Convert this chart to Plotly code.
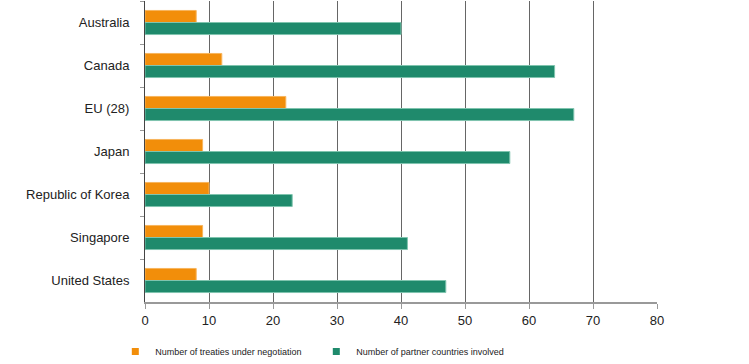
import plotly.graph_objects as go

countries = ["Australia", "Canada", "EU (28)", "Japan", "Republic of Korea", "Singapore", "United States"]
treaties = [8, 12, 22, 9, 10, 9, 8]
partners = [40, 64, 67, 57, 23, 41, 47]
x_ticks = [0, 10, 20, 30, 40, 50, 60, 70, 80]
series_names = ["Number of treaties under negotiation", "Number of partner countries involved"]
series_colors = ["#F28E0A", "#1F8A6C"]
border_colors = ["#F7B45C", "#7FC4AE"]

font_family = "Liberation Sans, Arial, Helvetica, sans-serif"

fig = go.Figure()
for vals, name, col, bcol in zip([treaties, partners], series_names, series_colors, border_colors):
    fig.add_trace(go.Bar(
        y=countries, x=vals, orientation="h", name=name, showlegend=False,
        marker=dict(color=col, line=dict(color=bcol, width=1)),
    ))
# legend entries with small square swatches
for name, col in zip(series_names, series_colors):
    fig.add_trace(go.Scatter(
        x=[None], y=[None], mode="markers", name=name,
        marker=dict(symbol="square", size=7, color=col),
    ))

fig.update_layout(
    width=749, height=364,
    margin=dict(l=145, r=92, t=1, b=62, autoexpand=False),
    paper_bgcolor="white", plot_bgcolor="white",
    barmode="group", bargap=0.44, bargroupgap=0,
    font=dict(family=font_family, size=13, color="#222"),
    showlegend=True,
    legend=dict(
        orientation="h", x=-0.058, xanchor="left", y=-0.116, yanchor="top",
        font=dict(size=9, color="#222"), entrywidth=156, entrywidthmode="pixels",
        traceorder="normal", bgcolor="rgba(0,0,0,0)",
    ),
    xaxis=dict(
        range=[0, 80], tickvals=x_ticks, ticktext=[str(v) for v in x_ticks],
        showgrid=True, gridcolor="#666", gridwidth=1,
        showline=True, linecolor="#999", linewidth=2,
        ticks="outside", ticklen=5, tickcolor="#999", tickwidth=1,
        ticklabelstandoff=0,
        zeroline=False, tickfont=dict(size=13, color="#222"),
        automargin=False,
    ),
    yaxis=dict(
        autorange="reversed", showgrid=False,
        showline=True, linecolor="#444", linewidth=1,
        ticks="outside", ticklen=4, tickcolor="#999", tickson="boundaries",
        ticklabelstandoff=12,
        tickfont=dict(size=13, color="#222"),
        automargin=False,
    ),
)

fig.write_html("out.html", config={"displayModeBar": False},
               post_script="document.body.style.margin='0';")
